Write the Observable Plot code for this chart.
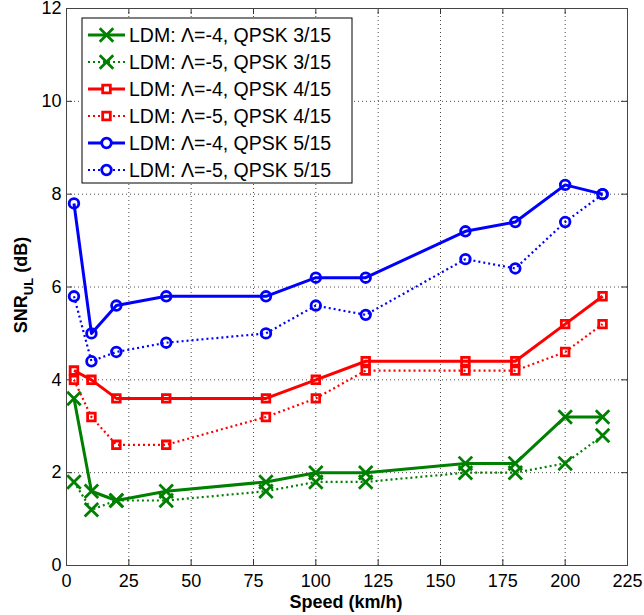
<!DOCTYPE html>
<html><head><meta charset="utf-8">
<script src="https://cdn.jsdelivr.net/npm/d3@7"></script>
<script src="https://cdn.jsdelivr.net/npm/@observablehq/plot@0.6"></script>
<style>body{margin:0;background:#fff}#chart{position:relative;width:644px;height:615px}</style>
</head><body><div id="chart"></div>
<script>
const speeds = [3, 10, 20, 40, 80, 100, 120, 160, 180, 200, 215];
const qpsk3_L4 = [3.6, 1.6, 1.4, 1.6, 1.8, 2.0, 2.0, 2.2, 2.2, 3.2, 3.2];
const qpsk3_L5 = [1.8, 1.2, 1.4, 1.4, 1.6, 1.8, 1.8, 2.0, 2.0, 2.2, 2.8];
const qpsk4_L4 = [4.2, 4.0, 3.6, 3.6, 3.6, 4.0, 4.4, 4.4, 4.4, 5.2, 5.8];
const qpsk4_L5 = [4.0, 3.2, 2.6, 2.6, 3.2, 3.6, 4.2, 4.2, 4.2, 4.6, 5.2];
const qpsk5_L4 = [7.8, 5.0, 5.6, 5.8, 5.8, 6.2, 6.2, 7.2, 7.4, 8.2, 8.0];
const qpsk5_L5 = [5.8, 4.4, 4.6, 4.8, 5.0, 5.6, 5.4, 6.6, 6.4, 7.4, 8.0];
const seriesLabels = [
  "LDM: \u039B=-4, QPSK 3/15",
  "LDM: \u039B=-5, QPSK 3/15",
  "LDM: \u039B=-4, QPSK 4/15",
  "LDM: \u039B=-5, QPSK 4/15",
  "LDM: \u039B=-4, QPSK 5/15",
  "LDM: \u039B=-5, QPSK 5/15"
];
const xTicks = [0, 25, 50, 75, 100, 125, 150, 175, 200, 225];
const yTicks = [0, 2, 4, 6, 8, 10, 12];
const xLabel = "Speed (km/h)";

const seriesValues = [qpsk3_L4, qpsk3_L5, qpsk4_L4, qpsk4_L5, qpsk5_L4, qpsk5_L5];
const styles = [
  {color: "#008000", dash: null, symbol: "times", r: 6.2},
  {color: "#008000", dash: "2,3", symbol: "times", r: 6.2},
  {color: "#ff0000", dash: null, symbol: "square", r: 4.3},
  {color: "#ff0000", dash: "2,3", symbol: "square", r: 4.3},
  {color: "#0000ff", dash: null, symbol: "circle", r: 4.8},
  {color: "#0000ff", dash: "2,3", symbol: "circle", r: 4.8}
];
const series = seriesValues.map((vals, i) => vals.map((v, j) => ({speed: speeds[j], snr: v, series: seriesLabels[i]})));

const marks = [
  Plot.gridX(xTicks, {stroke: "#000", strokeOpacity: 0.7, strokeDasharray: "1,3", strokeWidth: 1}),
  Plot.gridY(yTicks, {stroke: "#000", strokeOpacity: 0.7, strokeDasharray: "1,3", strokeWidth: 1}),
  Plot.axisX({ticks: xTicks, tickSize: 0, tickPadding: 9, label: null, fontSize: 18}),
  Plot.axisY({ticks: yTicks, tickSize: 0, tickPadding: 5, label: null, fontSize: 18}),
  Plot.tickX(xTicks, {x: d => d, insetTop: 551, stroke: "#333"}),
  Plot.tickX(xTicks, {x: d => d, insetBottom: 551, stroke: "#333"}),
  Plot.tickY(yTicks, {y: d => d, insetRight: 555, stroke: "#333"}),
  Plot.tickY(yTicks, {y: d => d, insetLeft: 555, stroke: "#333"}),
];
series.forEach((data, i) => {
  const s = styles[i];
  marks.push(Plot.line(data, {x: "speed", y: "snr", stroke: s.color, strokeWidth: s.dash ? 2.2 : 3, strokeDasharray: s.dash || undefined, strokeLinecap: "butt"}));
});
series.forEach((data, i) => {
  const s = styles[i];
  marks.push(Plot.dot(data, {x: "speed", y: "snr", symbol: s.symbol, r: s.r, stroke: s.color, fill: "none", strokeWidth: 2.8}));
});
marks.push(Plot.frame({stroke: "#444", strokeWidth: 1}));

const chart = Plot.plot({
  width: 644, height: 615,
  marginLeft: 66, marginRight: 17, marginTop: 8, marginBottom: 50,
  x: {domain: [0, 225]},
  y: {domain: [0, 12]},
  style: {fontFamily: "'Liberation Sans', Arial, sans-serif", fontSize: "18px", color: "#000", background: "#fff", overflow: "visible"},
  marks
});
document.getElementById("chart").appendChild(chart);

// axis titles and legend
const svg = d3.select(chart);
const yl = svg.append("text")
  .attr("transform", "translate(27,285) rotate(-90)")
  .attr("text-anchor", "middle")
  .style("font", "bold 18px 'Liberation Sans', Arial, sans-serif")
  .attr("fill", "#000");
yl.append("tspan").text("SNR");
yl.append("tspan").attr("dy", 6).style("font-size", "13px").text("UL");
yl.append("tspan").attr("dy", -6).text(" (dB)");
svg.append("text")
  .attr("x", 346).attr("y", 608)
  .attr("text-anchor", "middle")
  .style("font", "bold 18px 'Liberation Sans', Arial, sans-serif")
  .attr("fill", "#000")
  .text(xLabel);

const lg = svg.append("g").attr("transform", "translate(82,18)");
lg.append("rect").attr("width", 270).attr("height", 165).attr("fill", "#fff").attr("stroke", "#000").attr("stroke-width", 1);
const sym = d3.scaleOrdinal().domain(["times", "square", "circle"]).range([d3.symbolTimes, d3.symbolSquare, d3.symbolCircle]);
styles.forEach((s, i) => {
  const cy = 17 + i * 27;
  const g = lg.append("g").attr("transform", `translate(0,${cy})`);
  g.append("line").attr("x1", 6).attr("x2", 43).attr("y1", 0).attr("y2", 0)
    .attr("stroke", s.color).attr("stroke-width", s.dash ? 2.2 : 3).attr("stroke-dasharray", s.dash);
  g.append("path").attr("transform", "translate(24.5,0)")
    .attr("d", d3.symbol(sym(s.symbol), Math.PI * s.r * s.r)())
    .attr("fill", "#fff").attr("stroke", s.color).attr("stroke-width", 2.8);
  g.append("text").attr("x", 47).attr("y", 7)
    .attr("text-anchor", "start")
    .style("font", "19.5px 'Liberation Sans', Arial, sans-serif").attr("fill", "#000")
    .text(seriesLabels[i]);
});
</script>
</body></html>
